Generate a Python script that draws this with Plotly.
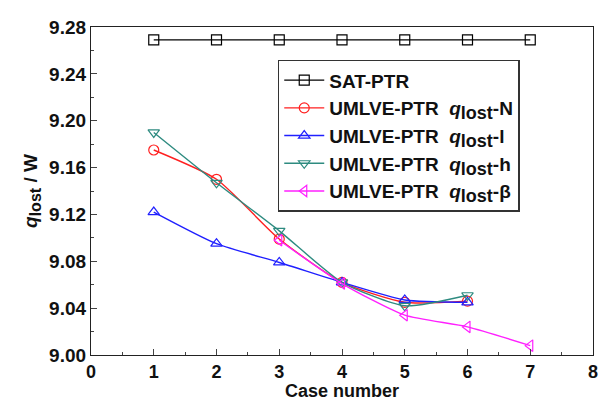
import plotly.graph_objects as go

cases_sat = [1, 2, 3, 4, 5, 6, 7]
sat_ptr = [9.269, 9.269, 9.269, 9.269, 9.269, 9.269, 9.269]

cases_n = [1, 2, 3, 4, 5, 6]
q_n = [9.175, 9.150, 9.099, 9.062, 9.045, 9.046]

cases_l = [1, 2, 3, 4, 5, 6]
q_l = [9.122, 9.095, 9.079, 9.062, 9.047, 9.045]

cases_h = [1, 2, 3, 4, 5, 6]
q_h = [9.190, 9.147, 9.106, 9.062, 9.042, 9.051]

cases_b = [3, 4, 5, 6, 7]
q_b = [9.098, 9.061, 9.034, 9.024, 9.008]

ql = "UMLVE-PTR  <i>q</i><sub><span style='font-size:18px'>lost</span></sub>-"
series = [
    ("SAT-PTR", cases_sat, sat_ptr, "#000000", "square-open", "linear"),
    (ql + "N", cases_n, q_n, "#ff2020", "circle-open", "spline"),
    (ql + "l", cases_l, q_l, "#2020ff", "triangle-up-open", "spline"),
    (ql + "h", cases_h, q_h, "#2e8b80", "triangle-down-open", "spline"),
    (ql + "β", cases_b, q_b, "#ff20ff", "triangle-left-open", "spline"),
]

fig = go.Figure()
for name, x, y, c, sym, shape in series:
    fig.add_trace(go.Scatter(
        x=x, y=y, name=name, mode="lines+markers",
        line=dict(color=c, width=1.4, shape=shape, smoothing=0.6),
        marker=dict(symbol=sym, size=10, color=c, line=dict(width=1.2, color=c)),
    ))

FAM = "Liberation Sans, Arial"
fig.update_layout(
    width=601, height=401,
    margin=dict(l=91, r=8, t=27, b=46),
    plot_bgcolor="white", paper_bgcolor="white",
    font=dict(family=FAM, size=19, color="#111"),
    showlegend=True,
    legend=dict(
        x=0.372, y=0.90, xanchor="left", yanchor="top",
        bgcolor="white", bordercolor="#333", borderwidth=1.5,
        font=dict(family=FAM, size=19, color="#111", weight="bold"),
        tracegroupgap=0, itemwidth=40,
    ),
    xaxis=dict(
        range=[0, 8], dtick=1, ticks="inside", ticklen=6, tickwidth=1.3,
        minor=dict(dtick=0.5, ticks="inside", ticklen=3, tickwidth=1.2),
        showline=True, linecolor="#222", linewidth=1.3, mirror=True,
        showgrid=False, zeroline=False, automargin=False,
        tickfont=dict(family=FAM, size=18, color="#111", weight="bold"),
        title=dict(text="<b>Case number</b>", standoff=0,
                   font=dict(family=FAM, size=18, color="#111")),
    ),
    yaxis=dict(
        range=[9.0, 9.28], dtick=0.04, tickformat=".2f",
        ticks="inside", ticklen=6, tickwidth=1.3,
        minor=dict(dtick=0.02, ticks="inside", ticklen=3, tickwidth=1.2),
        showline=True, linecolor="#222", linewidth=1.3, mirror=True,
        showgrid=False, zeroline=False, automargin=False,
        tickfont=dict(family=FAM, size=19, color="#111", weight="bold"),
        title=dict(text="<b><i>q</i><sub><span style='font-size:16px'>lost</span></sub> / W</b>", standoff=6,
                   font=dict(family=FAM, size=19, color="#111")),
    ),
)
fig.write_html("out.html")
